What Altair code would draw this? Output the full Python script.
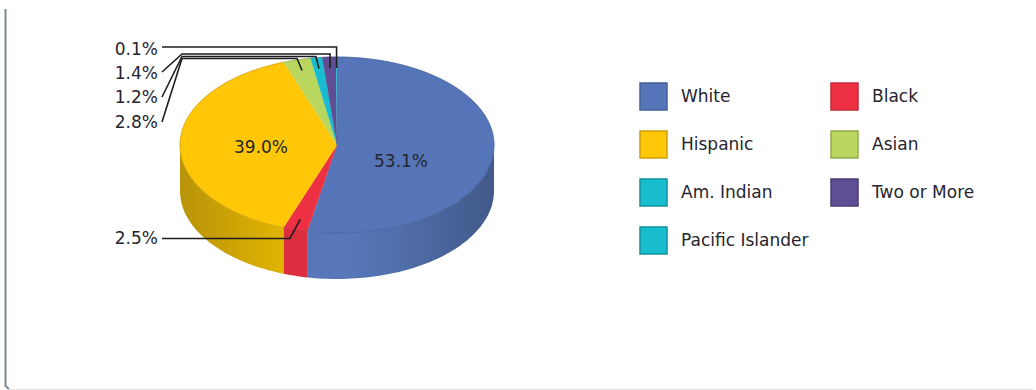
import math
import altair as alt
import pandas as pd

# Slice data, in drawing order (clockwise from twelve o'clock)
groups = ["White", "Black", "Hispanic", "Asian", "Am. Indian", "Two or More", "Pacific Islander"]
shares = [53.1, 2.5, 39.0, 2.8, 1.2, 1.4, 0.1]
top_colors = ["#5575b8", "#ee3142", "#ffc708", "#b9d65f", "#17bccf", "#5f4e93", "#17bccf"]
edge_colors = ["#44609a", "#c42a38", "#cf9f06", "#93ab4c", "#12909f", "#4a3d75", "#12909f"]

FONT = "DejaVu Sans"
FONT_SIZE = 17
TEXT = "#25252e"
W, H = 1036, 390

# Pie geometry on the canvas
CX, CY, RX, RY, DEPTH = 337, 145, 157, 88, 46
LEADER_R = 0.875

total = sum(shares)
starts, ends, acc = [], [], 0.0
for s in shares:
    starts.append(acc)
    acc += s / total * 360
    ends.append(acc)
mids = [(a + b) / 2 for a, b in zip(starts, ends)]


def on_rim(deg, r=1.0, drop=0.0):
    t = math.radians(deg)
    return CX + RX * r * math.sin(t), CY - RY * r * math.cos(t) + drop


def sweep(a, b, drop=0.0):
    n = max(2, int(abs(b - a) / 1.5) + 2)
    return [on_rim(a + (b - a) * k / (n - 1), 1.0, drop) for k in range(n)]


def frame(points):
    return pd.DataFrame([{"x": p[0], "y": p[1], "i": k} for k, p in enumerate(points)])


X = alt.X("x:Q", scale=alt.Scale(domain=[0, W], nice=False, zero=False), axis=None)
Y = alt.Y("y:Q", scale=alt.Scale(domain=[H, 0], nice=False, zero=False), axis=None)
ORDER = alt.Order("i:Q")


def path(points, **mark):
    return alt.Chart(frame(points)).mark_line(**mark).encode(x=X, y=Y, order=ORDER)


def side_fill(stops):
    return alt.Gradient(
        gradient="linear", x1=0, y1=0, x2=1, y2=0,
        stops=[alt.GradientStop(offset=o, color=c) for o, c in stops],
    )


# Legend carrier, hidden beneath the pie
legend = alt.Legend(
    title=None, orient="none", legendX=639, legendY=82, columns=2, direction="horizontal",
    symbolType="square", symbolSize=729, symbolStrokeWidth=1.5,
    labelFont=FONT, labelFontSize=FONT_SIZE, labelColor=TEXT, labelOffset=13,
    rowPadding=15, columnPadding=19, padding=0, labelLimit=200,
)
carrier = (
    alt.Chart(pd.DataFrame({"group": groups, "x": [CX] * 7, "y": [CY] * 7}))
    .mark_square(size=1, filled=True, opacity=1)
    .encode(
        x=X, y=Y,
        fill=alt.Fill("group:N", sort=groups, legend=legend,
                      scale=alt.Scale(domain=groups, range=top_colors)),
        stroke=alt.Stroke("group:N", sort=groups, legend=legend,
                          scale=alt.Scale(domain=groups, range=edge_colors)),
    )
)

layers = [carrier]

# Frame of the panel
layers.append(path([(5.5, 9), (5.5, 386), (9, 389)], stroke="#7b8794", strokeWidth=2))
layers.append(path([(9, 389.5), (1033, 389.5)], stroke="#e4e6e6", strokeWidth=1))

# Outer wall of the front half, one gradient per visible slice
walls = {
    0: [(0, "#5776b8"), (0.2, "#5878bb"), (0.6, "#4d6aa3"), (1, "#42598a")],
    1: [(0, "#dd2e40"), (1, "#dd2e40")],
    2: [(0, "#b8930a"), (1, "#e0b400")],
}
for k, stops in walls.items():
    a, b = max(starts[k], 90), min(ends[k], 270)
    outline = sweep(a, b) + sweep(b, a, DEPTH) + [on_rim(a)]
    layers.append(path(outline, fill=side_fill(stops), stroke="transparent"))

# Top face of every slice; very thin slices get no outline so they stay hairline
for k in range(len(groups)):
    outline = [(CX, CY)] + sweep(starts[k], ends[k]) + [(CX, CY)]
    if shares[k] < 0.5:
        layers.append(path(outline, fill=top_colors[k], stroke="transparent"))
    else:
        layers.append(path(outline, fill=top_colors[k], stroke=top_colors[k], strokeWidth=0.25))

# Darker rim around the top face
for k in range(len(groups)):
    if shares[k] >= 0.5:
        layers.append(path(sweep(starts[k], ends[k]), stroke=edge_colors[k], strokeWidth=1, strokeOpacity=0.75))

# Leader lines, running from each outside label to its slice
LEADER = dict(stroke="#1e1e22", strokeWidth=1.6)
feet = {g: on_rim(m, LEADER_R) for g, m in zip(groups, mids)}
fx, fy = feet["Pacific Islander"]
layers.append(path([(162, 47), (fx, 47), (fx, fy)], **LEADER))
for g, label_y, bend_y, shift in [("Two or More", 72, 54, 0), ("Am. Indian", 97, 56.5, -3), ("Asian", 122, 58.5, -5)]:
    fx, fy = feet[g]
    layers.append(path([(162, label_y), (182, bend_y), (fx + shift, bend_y), (fx, fy)], **LEADER))
fx, fy = feet["Black"]
layers.append(path([(162, 238.5), (290, 238.5), (fx, fy)], **LEADER))

# Percent labels
outside = pd.DataFrame({
    "text": [f"{shares[groups.index(g)]:.1f}%" for g in ["Pacific Islander", "Two or More", "Am. Indian", "Asian", "Black"]],
    "x": [158] * 5,
    "y": [50, 74, 98, 123, 239],
})
layers.append(
    alt.Chart(outside)
    .mark_text(font=FONT, fontSize=FONT_SIZE, color=TEXT, align="right", baseline="middle")
    .encode(x=X, y=Y, text="text:N")
)
inside = pd.DataFrame({
    "text": [f"{shares[0]:.1f}%", f"{shares[2]:.1f}%"],
    "x": [401, 261],
    "y": [162, 148],
})
layers.append(
    alt.Chart(inside)
    .mark_text(font=FONT, fontSize=FONT_SIZE, color=TEXT, align="center", baseline="middle")
    .encode(x=X, y=Y, text="text:N")
)

chart = (
    alt.layer(*layers)
    .resolve_scale(fill="shared", stroke="shared")
    .properties(width=W, height=H, padding=0, autosize=alt.AutoSizeParams(type="none"),
                background="white")
    .configure_view(stroke=None)
)
chart.save("out.html", embed_options={"renderer": "svg", "actions": False})
